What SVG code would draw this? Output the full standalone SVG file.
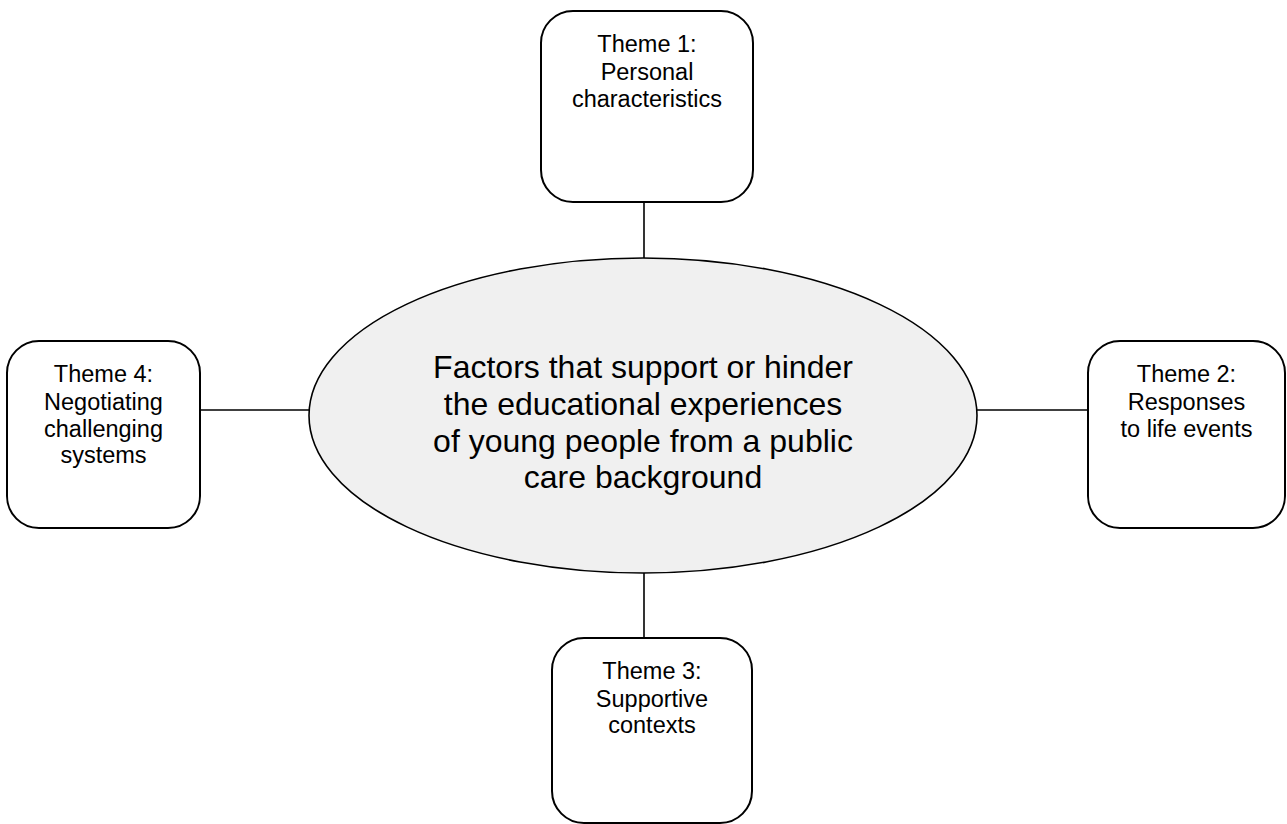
<svg xmlns="http://www.w3.org/2000/svg" width="1287" height="824" viewBox="0 0 1287 824">
<style>
.box{fill:#ffffff;stroke:#000000;stroke-width:2}
.hub{fill:#f0f0f0;stroke:#000000;stroke-width:1.6}
.conn{stroke:#000000;stroke-width:1.6;fill:none}
.t{font-family:"Liberation Sans",Arial,sans-serif;font-size:23.5px;fill:#000000;text-anchor:middle}
.h{font-family:"Liberation Sans",Arial,sans-serif;font-size:32px;fill:#000000;text-anchor:middle}
</style>
<rect width="1287" height="824" fill="#ffffff"/>
<g id="connectors">
<line class="conn" x1="644" y1="202" x2="644" y2="258"/>
<line class="conn" x1="644" y1="573" x2="644" y2="638"/>
<line class="conn" x1="200" y1="410" x2="309" y2="410"/>
<line class="conn" x1="977" y1="410" x2="1088" y2="410"/>
</g>
<g id="center">
<ellipse class="hub" cx="643" cy="415.5" rx="334" ry="157.5"/>
<text class="h" x="643" y="378">Factors that support or hinder</text>
<text class="h" x="643" y="415">the educational experiences</text>
<text class="h" x="643" y="452">of young people from a public</text>
<text class="h" x="643" y="488">care background</text>
</g>
<g id="theme1">
<rect class="box" x="541" y="11" width="212" height="191" rx="32"/>
<text class="t" x="647" y="52">Theme 1:</text>
<text class="t" x="647" y="80">Personal</text>
<text class="t" x="647" y="107">characteristics</text>
</g>
<g id="theme2">
<rect class="box" x="1088" y="341" width="197" height="187" rx="32"/>
<text class="t" x="1186.5" y="382">Theme 2:</text>
<text class="t" x="1186.5" y="410">Responses</text>
<text class="t" x="1186.5" y="437">to life events</text>
</g>
<g id="theme3">
<rect class="box" x="552" y="638" width="200" height="185" rx="32"/>
<text class="t" x="652" y="679">Theme 3:</text>
<text class="t" x="652" y="707">Supportive</text>
<text class="t" x="652" y="733">contexts</text>
</g>
<g id="theme4">
<rect class="box" x="7" y="341" width="193" height="187" rx="32"/>
<text class="t" x="103.5" y="382">Theme 4:</text>
<text class="t" x="103.5" y="410">Negotiating</text>
<text class="t" x="103.5" y="437">challenging</text>
<text class="t" x="103.5" y="463">systems</text>
</g>
</svg>
